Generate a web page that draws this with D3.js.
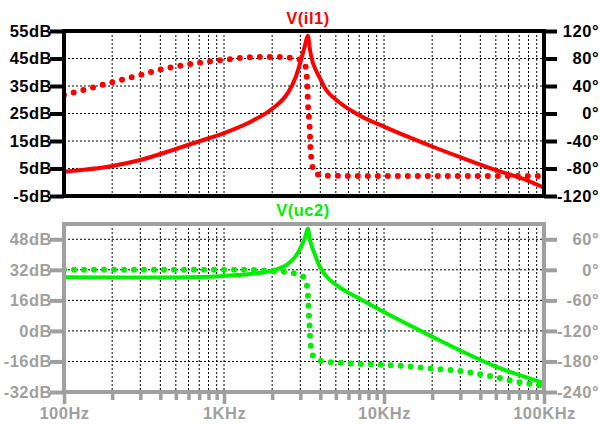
<!DOCTYPE html>
<html>
<head>
<meta charset="utf-8">
<script src="https://cdn.jsdelivr.net/npm/d3@7"></script>
<style>
  body { margin: 0; background: #fff; }
  text { font-family: "Liberation Sans", Arial, sans-serif; font-weight: bold; font-size: 16.5px; letter-spacing: 0.5px; }
</style>
</head>
<body>
<div class="bode"></div>
<script>

// frequency points (Hz) used for both magnitude traces
const magFreq = [100, 200, 300, 500, 700, 1000, 1500, 2000, 2500, 2800, 3000, 3100, 3200, 3340,
    3450, 3550, 3700, 3900, 4300, 5200, 7000, 10000, 20000, 30000, 50000, 80000, 100000];

// V(il1) magnitude, dB
const il1Mag = [3.8, 5.9, 8.1, 12.1, 14.9, 17.9, 22.3, 26.7, 32.4, 38.1, 43.6, 46.6, 49.5, 53.3,
    48.0, 44.5, 41.5, 38.8, 34.0, 29.3, 24.4, 20.2, 13.0, 9.1, 4.4, 0.5, -2.0];

// V(uc2) magnitude, dB
const uc2Mag = [28.1, 28.0, 28.0, 28.0, 28.2, 28.8, 29.9, 31.6, 35.0, 39.0, 43.2, 45.9, 48.5, 53.6,
    47.5, 44.0, 40.0, 35.0, 29.2, 23.2, 17.0, 9.9, -3.0, -10.3, -18.7, -24.7, -27.3];

// V(il1) phase, degrees
const il1PhFreq = [100, 150, 200, 300, 400, 500, 700, 1000, 1500, 2000, 2500, 2800, 3100, 3200,
    3290, 3330, 3350, 3400, 3440, 3460, 3520, 3600, 3800, 4300, 10000, 100000];
const il1Phase = [27, 37.5, 45.5, 56, 64, 68.4, 73.7, 78, 81.8, 82.2, 81.4, 80.2, 75.5, 72,
    53.6, 29.4, 12.4, -7, -25.5, -45, -66, -80, -88, -90.5, -91, -91];

// V(uc2) phase, degrees
const uc2PhFreq = [100, 1000, 1390, 1850, 2080, 2400, 2780, 3000, 3180, 3330, 3360, 3395, 3430,
    3460, 3520, 3610, 4180, 5520, 7250, 9680, 12600, 16500, 21800, 28700, 38000, 50100, 65900,
    86900, 100000];
const uc2Phase = [0.2, 0.2, 0, -1.5, -2.9, -4.2, -7.6, -11, -16, -39, -62, -88, -113,
    -140, -155, -170, -180, -183, -185, -186.4, -188.3, -191.6, -194.9, -198, -204, -211, -219,
    -225.5, -228];

// tick labels
const topDbTicks = [55, 45, 35, 25, 15, 5, -5];
const topDegTicks = [120, 80, 40, 0, -40, -80, -120];
const botDbTicks = [48, 32, 16, 0, -16, -32];
const botDegTicks = [60, 0, -60, -120, -180, -240];
const decades = [100, 1000, 10000, 100000];
const decadeLabels = ["100Hz", "1KHz", "10KHz", "100KHz"];

const width = 601;
const height = 428;
const left = 64, right = 544;
const red = "#ff0000";
const green = "#00f000";
const grey = "#9f9f9f";

const svg = d3.select(".bode")
    .append("svg")
    .attr("width", width)
    .attr("height", height);

svg.append("rect")
    .attr("width", width)
    .attr("height", height)
    .attr("fill", "#fff");

const x = d3.scaleLog()
    .domain([100, 100000])
    .range([left, right]);

// all grid frequencies: 2..9 inside each decade, plus the decades
const gridFreq = [];
for (let d = 100; d < 100000; d *= 10) {
    for (let k = 1; k <= 9; k++) gridFreq.push(d * k);
}
gridFreq.push(100000);

function drawPane(opt){

    const g = svg.append("g");

    const yL = d3.scaleLinear().domain(opt.dbDomain).range([opt.bottom, opt.top]);
    const yR = d3.scaleLinear().domain(opt.degDomain).range([opt.bottom, opt.top]);

    g.append("clipPath")
        .attr("id", opt.id)
        .append("rect")
        .attr("x", left)
        .attr("y", opt.top)
        .attr("width", right - left)
        .attr("height", opt.bottom - opt.top);

    //Grid
    g.append("g")
        .selectAll("line")
        .data(gridFreq.filter(f => f > 100 && f < 100000))
        .enter()
        .append("line")
        .attr("x1", d => x(d))
        .attr("x2", d => x(d))
        .attr("y1", opt.top)
        .attr("y2", opt.bottom)
        .attr("stroke", "#000")
        .attr("stroke-width", 1)
        .attr("stroke-dasharray", "2,2");

    g.append("g")
        .selectAll("line")
        .data(opt.dbTicks.filter(v => yL(v) > opt.top + 2 && yL(v) < opt.bottom - 2))
        .enter()
        .append("line")
        .attr("x1", left)
        .attr("x2", right)
        .attr("y1", d => yL(d))
        .attr("y2", d => yL(d))
        .attr("stroke", "#000")
        .attr("stroke-width", 1)
        .attr("stroke-dasharray", "2,2");

    //Ejes
    const axL = g.append("g")
        .attr("transform", `translate(${left},0)`)
        .call(
            d3.axisLeft(yL)
                .tickValues(opt.dbTicks)
                .tickSize(14)
                .tickPadding(-2)
                .tickFormat(d => d + "dB")
        );

    const axR = g.append("g")
        .attr("transform", `translate(${right},0)`)
        .call(
            d3.axisRight(yR)
                .tickValues(opt.degTicks)
                .tickSize(13)
                .tickFormat(d => d + "°")
        );

    [axL, axR].forEach(ax => {
        ax.select(".domain").remove();
        ax.selectAll("line")
            .attr("stroke", opt.frame)
            .attr("stroke-width", 4);
        ax.selectAll("text")
            .attr("fill", opt.frame);
        ax.attr("font-size", null).attr("font-family", null);
    });
    axR.selectAll("text")
        .attr("x", width - 2 - right)
        .attr("text-anchor", "end");
    axL.selectAll("text").attr("text-anchor", "end");

    //Curvas
    const plot = g.append("g").attr("clip-path", `url(#${opt.id})`);

    const magLine = d3.line()
        .x((d, i) => x(magFreq[i]))
        .y(d => yL(d))
        .curve(d3.curveMonotoneX);

    const phLine = d3.line()
        .x(d => x(d[0]))
        .y(d => yR(d[1]))
        .curve(d3.curveMonotoneX);

    plot.append("path")
        .datum(opt.phase)
        .attr("d", phLine)
        .attr("fill", "none")
        .attr("stroke", opt.color)
        .attr("stroke-width", 6)
        .attr("stroke-linecap", "round")
        .attr("stroke-dasharray", "0 10");

    plot.append("path")
        .datum(opt.mag)
        .attr("d", magLine)
        .attr("fill", "none")
        .attr("stroke", opt.color)
        .attr("stroke-width", 4)
        .attr("stroke-linejoin", "round");

    //Marco
    g.append("rect")
        .attr("x", left)
        .attr("y", opt.top)
        .attr("width", right - left)
        .attr("height", opt.bottom - opt.top)
        .attr("fill", "none")
        .attr("stroke", opt.frame)
        .attr("stroke-width", 4);

    g.append("text")
        .attr("x", opt.titleX)
        .attr("y", opt.titleY)
        .attr("text-anchor", "middle")
        .attr("fill", opt.color)
        .text(opt.title);

    return g;
}

drawPane({
    id: "clipTop",
    top: 31,
    bottom: 196,
    dbDomain: [-5, 55],
    degDomain: [-120, 120],
    dbTicks: topDbTicks,
    degTicks: topDegTicks,
    mag: il1Mag,
    phase: il1PhFreq.map((f, i) => [f, il1Phase[i]]),
    color: red,
    frame: "#000",
    title: "V(il1)",
    titleX: 308,
    titleY: 24
});

drawPane({
    id: "clipBot",
    top: 224,
    bottom: 392,
    dbDomain: [-32, 56],
    degDomain: [-240, 90],
    dbTicks: botDbTicks,
    degTicks: botDegTicks,
    mag: uc2Mag,
    phase: uc2PhFreq.map((f, i) => [f, uc2Phase[i]]),
    color: green,
    frame: grey,
    title: "V(uc2)",
    titleX: 303,
    titleY: 216
});

// frequency axis under the lower pane
const axX = svg.append("g")
    .attr("transform", "translate(0,392)")
    .call(
        d3.axisBottom(x)
            .tickValues(gridFreq)
            .tickSize(8)
            .tickPadding(14)
            .tickFormat(d => {
                const i = decades.indexOf(d);
                return i >= 0 ? decadeLabels[i] : "";
            })
    );

axX.attr("font-size", null).attr("font-family", null);
axX.select(".domain").remove();
axX.selectAll("line")
    .attr("stroke", grey)
    .attr("stroke-width", 3.5)
    .attr("y2", d => decades.includes(d) ? 12 : 8);
axX.selectAll("text")
    .attr("fill", grey)
    .attr("dy", "0.71em")
    .attr("y", 15);

</script>
</body>
</html>
